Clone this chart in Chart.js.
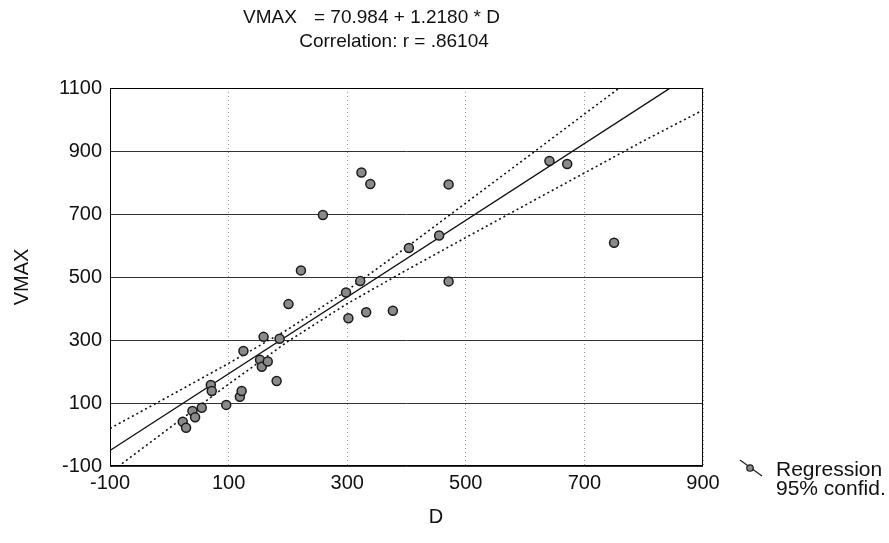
<!DOCTYPE html>
<html>
<head>
<meta charset="utf-8">
<title>VMAX vs D</title>
<script src="https://cdn.jsdelivr.net/npm/chart.js@4.4.1/dist/chart.umd.min.js"></script>
<style>
    body { margin: 0; background: #fff; }
    canvas { display: block; }
</style>
</head>
<body>
<canvas id="chart" width="889" height="543"></canvas>
<script>
const dValues = [22.7, 28.3, 39, 43.5, 54.7, 70, 71.6, 96, 119, 122, 125, 153, 156, 166, 159, 186, 181,
                 201, 222, 259, 298, 302, 322, 324, 339, 332, 377, 404, 455, 471, 471, 641, 671, 750];
const vmaxValues = [40.7, 21.6, 74.6, 54.6, 85, 157, 138, 94, 120, 138, 265, 237, 215, 232, 310, 304, 170,
                    414, 521, 697, 451, 369, 487, 832, 795, 388, 393, 592, 632, 794, 486, 868, 859, 609];

// fitted line VMAX = 70.984 + 1.2180 * D, at the plot edges
const fitD = [-100, 900];
const fitV = [-50.8, 1167.2];

// 95% confidence band, read at every 100 of D
const bandD = [-100, 0, 100, 200, 300, 400, 500, 600, 700, 800, 900];
const upperBand = [19.2, 121.9, 225.7, 333.7, 457.5, 594.5, 734.7, 875.7, 1017, 1158, 1300];
const lowerBand = [-120.8, 20.1, 159.9, 295.5, 415.3, 521.9, 625.3, 727.9, 830.2, 932.4, 1030];

const xTicks = [-100, 100, 300, 500, 700, 900];
const yTicks = [-100, 100, 300, 500, 700, 900, 1100];

const FONT = '"Liberation Sans", Arial, Helvetica, sans-serif';

function pairs(xs, ys) {
    return xs.map((x, i) => ({ x: x, y: ys[i] }));
}

const decorPlugin = {
    id: 'decor',
    afterDraw(chart) {
        const ctx = chart.ctx;
        const a = chart.chartArea;
        ctx.save();

        // plot frame
        ctx.strokeStyle = '#000';
        ctx.lineWidth = 1;
        ctx.setLineDash([]);
        ctx.strokeRect(a.left + 0.5, a.top + 0.5, a.right - a.left - 1, a.bottom - a.top - 1);

        ctx.fillStyle = '#111';
        ctx.textBaseline = 'middle';

        // titles
        ctx.font = '19px ' + FONT;
        ctx.textAlign = 'left';
        ctx.fillText('VMAX', 243, 18);
        ctx.fillText('= 70.984 + 1.2180 * D', 314, 18);
        ctx.textAlign = 'center';
        ctx.fillText('Correlation: r = .86104', 394, 42);

        // axis titles
        ctx.font = '20px ' + FONT;
        ctx.fillText('D', 436, 517);
        ctx.save();
        ctx.translate(22, 277);
        ctx.rotate(-Math.PI / 2);
        ctx.fillText('VMAX', 0, 0);
        ctx.restore();

        // legend
        ctx.strokeStyle = '#222';
        ctx.lineWidth = 1.3;
        ctx.beginPath();
        ctx.moveTo(740, 460);
        ctx.lineTo(762, 476);
        ctx.stroke();
        ctx.beginPath();
        ctx.arc(750, 468, 3.2, 0, Math.PI * 2);
        ctx.fillStyle = '#8a8a8a';
        ctx.fill();
        ctx.stroke();

        ctx.fillStyle = '#111';
        ctx.textAlign = 'left';
        ctx.font = '21px ' + FONT;
        ctx.fillText('Regression', 776, 470);
        ctx.fillText('95% confid.', 776, 489);

        ctx.restore();
    }
};

new Chart(document.getElementById('chart'), {
    type: 'scatter',
    data: {
        datasets: [
            {
                label: 'Regression',
                data: pairs(fitD, fitV),
                showLine: true,
                borderColor: '#111',
                borderWidth: 1.4,
                pointRadius: 0,
                order: 2
            },
            {
                label: '95% confid. upper',
                data: pairs(bandD, upperBand),
                showLine: true,
                borderColor: '#111',
                borderWidth: 1.6,
                borderDash: [2, 3],
                pointRadius: 0,
                order: 3
            },
            {
                label: '95% confid. lower',
                data: pairs(bandD, lowerBand),
                showLine: true,
                borderColor: '#111',
                borderWidth: 1.6,
                borderDash: [2, 3],
                pointRadius: 0,
                order: 3
            },
            {
                label: 'VMAX',
                data: pairs(dValues, vmaxValues),
                pointRadius: 4.5,
                pointBackgroundColor: '#8a8a8a',
                pointBorderColor: '#1a1a1a',
                pointBorderWidth: 1.5,
                order: 1
            }
        ]
    },
    options: {
        responsive: false,
        animation: false,
        layout: { padding: { top: 88, right: 186, bottom: 0, left: 0 } },
        plugins: {
            legend: { display: false },
            tooltip: { enabled: false }
        },
        scales: {
            x: {
                type: 'linear',
                min: -100,
                max: 900,
                afterBuildTicks: s => { s.ticks = xTicks.map(v => ({ value: v })); },
                afterFit: s => { s.height = 77; },
                ticks: {
                    color: '#111',
                    padding: 5,
                    font: { family: FONT, size: 20 },
                    callback: v => String(v)
                },
                grid: { color: '#9a9a9a', lineWidth: 1, drawTicks: false },
                border: { display: false, dash: [1, 3] }
            },
            y: {
                type: 'linear',
                min: -100,
                max: 1100,
                afterBuildTicks: s => { s.ticks = yTicks.map(v => ({ value: v })); },
                afterFit: s => { s.width = 110; },
                ticks: {
                    color: '#111',
                    padding: 8,
                    font: { family: FONT, size: 20 },
                    callback: v => String(v)
                },
                grid: { color: '#333', lineWidth: 1, drawTicks: false },
                border: { display: false }
            }
        }
    },
    plugins: [decorPlugin]
});
</script>
</body>
</html>
